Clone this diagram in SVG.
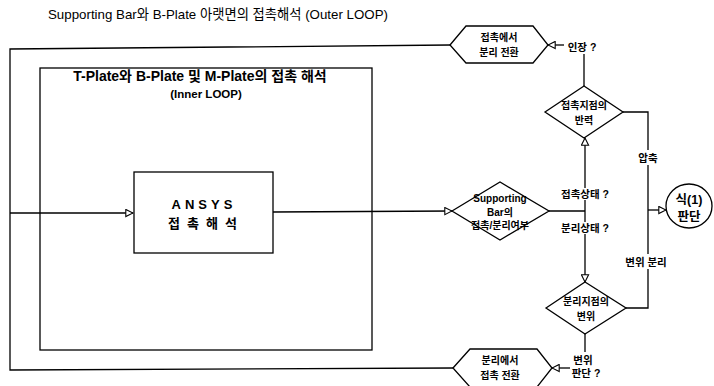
<svg xmlns="http://www.w3.org/2000/svg" width="714" height="386" viewBox="0 0 714 386">
<style>
.ln{fill:none;stroke:#000;stroke-width:1.3}
.sh{fill:#fff;stroke:#000;stroke-width:1.3}
text{font-family:"Liberation Sans","Noto Sans CJK KR",sans-serif;fill:#000}
.lb{font-size:10.5px;font-weight:bold;text-anchor:middle}
.nd{font-size:10px;font-weight:bold;text-anchor:middle}
</style>
<defs>
<marker id="ar" viewBox="0 0 10 10" refX="9" refY="5" markerWidth="9" markerHeight="9" markerUnits="userSpaceOnUse" orient="auto">
<path d="M1,1 L9,5 L1,9 Z" fill="#fff" stroke="#000" stroke-width="1.2"/>
</marker>
</defs>
<rect width="714" height="386" fill="#fff"/>
<text x="48" y="19" font-size="13.3">Supporting Bar와 B-Plate 아랫면의 접촉해석 (Outer LOOP)</text>

<g id="inner-loop">
<rect class="ln" x="40" y="68" width="332" height="282"/>
<text x="200" y="81" font-size="14" font-weight="bold" fill="#444" text-anchor="middle">T-Plate와 B-Plate 및 M-Plate의 접촉 해석</text>
<text x="206" y="98" font-size="11.5" font-weight="bold" text-anchor="middle" fill="#444">(Inner LOOP)</text>
</g>

<g id="connectors">
<polyline class="ln" points="450,45 10,49 10,370 453,368"/>
<line class="ln" x1="10" y1="213" x2="133" y2="213" marker-end="url(#ar)"/>
<line class="ln" x1="273" y1="212" x2="452" y2="211" marker-end="url(#ar)"/>
<line class="ln" x1="549" y1="211" x2="585" y2="211"/>
<line class="ln" x1="585" y1="188" x2="585" y2="138" marker-end="url(#ar)"/>
<line class="ln" x1="585" y1="200" x2="585" y2="222"/>
<line class="ln" x1="585" y1="234" x2="585" y2="282" marker-end="url(#ar)"/>
<line class="ln" x1="584" y1="86" x2="584" y2="54"/>
<line class="ln" x1="564" y1="45" x2="548" y2="45" marker-end="url(#ar)"/>
<polyline class="ln" points="623,112 648,112 648,150"/>
<line class="ln" x1="648" y1="165" x2="648" y2="254"/>
<polyline class="ln" points="648,269 648,308 626,308"/>
<line class="ln" x1="648" y1="210" x2="666" y2="210" marker-end="url(#ar)"/>
<line class="ln" x1="585" y1="334" x2="585" y2="352"/>
<line class="ln" x1="570" y1="368" x2="552" y2="368" marker-end="url(#ar)"/>
</g>

<g id="ansys">
<rect class="sh" x="134" y="172" width="139" height="81"/>
<text x="204" y="209" font-size="13" font-weight="bold" text-anchor="middle" letter-spacing="4">ANSYS</text>
<text x="206" y="228" font-size="13" font-weight="bold" text-anchor="middle" letter-spacing="7">접촉해석</text>
</g>

<g id="sb-decision">
<polygon class="sh" points="452,211 500,182 549,211 500,240"/>
<text class="nd" x="500" y="202">Supporting</text>
<text class="nd" x="500" y="216">Bar의</text>
<text class="nd" x="500" y="229">접촉/분리여부</text>
</g>

<g id="reaction">
<polygon class="sh" points="545,112 584,86 623,112 584,138"/>
<text class="nd" x="584" y="109">접촉지점의</text>
<text class="nd" x="584" y="124">반력</text>
</g>

<g id="displacement">
<polygon class="sh" points="546,308 585,282 626,308 585,334"/>
<text class="nd" x="586" y="305">분리지점의</text>
<text class="nd" x="586" y="320">변위</text>
</g>

<g id="to-separation">
<polygon class="sh" points="450,45 466,26 533,26 548,45 533,63 466,63"/>
<text class="nd" x="499" y="41">접촉에서</text>
<text class="nd" x="499" y="56">분리 전환</text>
</g>

<g id="to-contact">
<polygon class="sh" points="453,368 470,349 537,349 552,368 537,387 470,387"/>
<text class="nd" x="500" y="364">분리에서</text>
<text class="nd" x="500" y="379">접촉 전환</text>
</g>

<g id="eq1">
<ellipse class="sh" cx="689" cy="206" rx="23" ry="22"/>
<text x="689" y="204" font-size="12.5" font-weight="bold" text-anchor="middle">식(1)</text>
<text x="689" y="221" font-size="12.5" font-weight="bold" text-anchor="middle">판단</text>
</g>

<g id="labels">
<text class="lb" x="582" y="51">인장 ?</text>
<text class="lb" x="585" y="198">접촉상태 ?</text>
<text class="lb" x="585" y="232">분리상태 ?</text>
<text class="lb" x="648" y="162">압축</text>
<text class="lb" x="646" y="266">변위 분리</text>
<text class="lb" x="583" y="364">변위</text>
<text class="lb" x="586" y="377">판단 ?</text>
</g>
</svg>
